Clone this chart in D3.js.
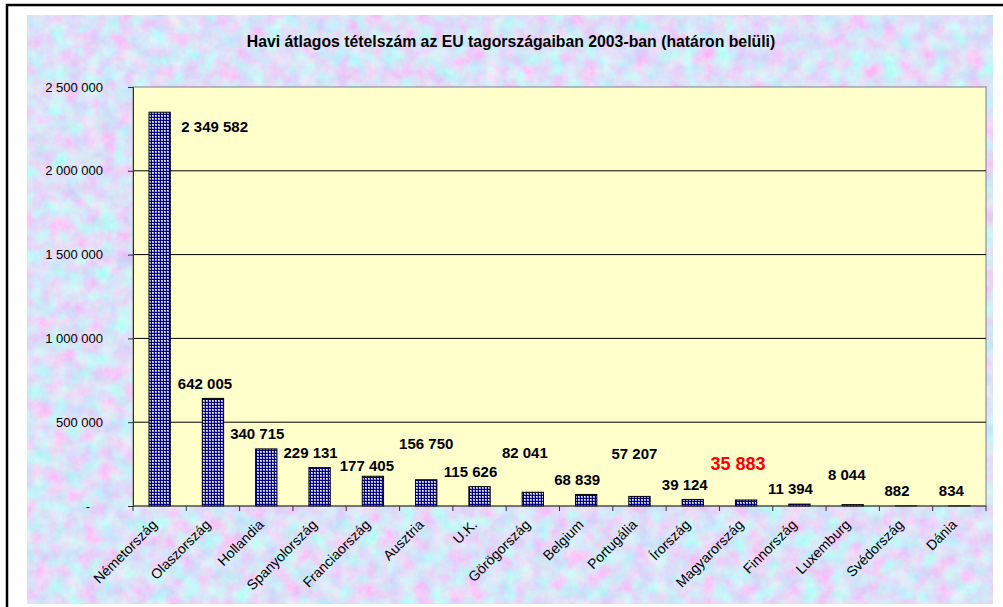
<!DOCTYPE html>
<html>
<head>
<meta charset="utf-8">
<script src="https://cdn.jsdelivr.net/npm/d3@7"></script>
<style>
  body { margin: 0; background: #fff; }
  text { font-family: Arial, "Liberation Sans", sans-serif; }
</style>
</head>
<body>
<div class="chart"></div>
<script>
// Chart data
var categories = ["Németország", "Olaszország", "Hollandia", "Spanyolország", "Franciaország",
  "Ausztria", "U.K.", "Görögország", "Belgium", "Portugália", "Írország", "Magyarország",
  "Finnország", "Luxemburg", "Svédország", "Dánia"];
var values = [2349582, 642005, 340715, 229131, 177405, 156750, 115626, 82041,
  68839, 57207, 39124, 35883, 11394, 8044, 882, 834];
var yTicks = [0, 500000, 1000000, 1500000, 2000000, 2500000];
var highlight = "Magyarország";
var title = "Havi átlagos tételszám az EU tagországaiban 2003-ban (határon belüli)";

// data labels were dragged by hand in the original, keep their offsets (from bar top)
var labelDx = [55, -8, -9, -9, -6, 0, -9, -8, -9, -5, -8, -8, -9, -6, -9, -8];
var labelDy = [15, -15, -15, -15, -11, -36, -15, -39, -15, -43, -15, -36, -15, -30, -15, -15];

var svgWidth = 1003;
var svgHeight = 607;
var margin = {top: 87, right: 17, bottom: 101, left: 133};
var width = svgWidth - margin.left - margin.right;
var height = svgHeight - margin.top - margin.bottom;

var svg = d3.select(".chart").append("svg")
  .attr("width", svgWidth)
  .attr("height", svgHeight);

var defs = svg.append("defs");

// marbled blue/pink background: red and green pulled against each other -> pink / cyan blotches
var filt = defs.append("filter").attr("id", "marble")
  .attr("x", 0).attr("y", 0).attr("width", 1).attr("height", 1);
filt.append("feTurbulence")
  .attr("type", "fractalNoise")
  .attr("baseFrequency", 0.06)
  .attr("numOctaves", 5)
  .attr("seed", 7);
filt.append("feColorMatrix")
  .attr("type", "matrix")
  .attr("values", "0.7 -0.35 0 0 0.54  -0.3 0.65 0 0 0.58  0 0 0.1 0 0.89  0 0 0 0 1");

// checkered bar fill
var pat = defs.append("pattern").attr("id", "checks")
  .attr("patternUnits", "userSpaceOnUse")
  .attr("width", 3).attr("height", 3);
pat.append("rect").attr("width", 3).attr("height", 3).attr("fill", "#000080");
pat.append("rect").attr("x", 1).attr("y", 1).attr("width", 2).attr("height", 2).attr("fill", "#a0a0e0");
pat.append("rect").attr("x", 1).attr("y", 1).attr("width", 1).attr("height", 1).attr("fill", "#ffffff");

// outer frame
svg.append("rect")
  .attr("x", 7).attr("y", 5)
  .attr("width", 1010).attr("height", 620)
  .attr("fill", "#fff")
  .attr("stroke", "#000")
  .attr("stroke-width", 2.5);

svg.append("rect")
  .attr("x", 27).attr("y", 15)
  .attr("width", 966).attr("height", 589)
  .attr("filter", "url(#marble)");

// title
svg.append("text")
  .attr("x", 511).attr("y", 47)
  .attr("text-anchor", "middle")
  .attr("font-size", "15.8px")
  .attr("font-weight", "bold")
  .text(title);

var chart = svg.append("g")
  .attr("transform", "translate(" + margin.left + "," + margin.top + ")");

var x = d3.scaleBand().domain(categories).range([0, width])
  .paddingInner(0.6).paddingOuter(0.3);
var y = d3.scaleLinear().domain([0, 2500000]).range([height, 0]);

var locale = d3.formatLocale({decimal: ",", thousands: " ", grouping: [3], currency: ["", ""]});
var fmt = locale.format(",d");

// plot area
chart.append("rect")
  .attr("width", width).attr("height", height)
  .attr("fill", "#FFFFCC")
  .attr("stroke", "#808080");

// gridlines
chart.selectAll(".grid")
  .data(yTicks.filter(function(d) { return d > 0 && d < 2500000; }))
  .enter().append("line")
  .attr("x1", 0).attr("x2", width)
  .attr("y1", function(d) { return y(d); })
  .attr("y2", function(d) { return y(d); })
  .attr("stroke", "#000");

// bars
chart.selectAll(".bar")
  .data(values)
  .enter().append("rect")
  .attr("x", function(d, i) { return x(categories[i]); })
  .attr("y", function(d) { return y(d); })
  .attr("width", x.bandwidth())
  .attr("height", function(d) { return height - y(d); })
  .attr("fill", "url(#checks)")
  .attr("stroke", "#000")
  .attr("stroke-width", 1);

// y axis
var leftAxis = d3.axisLeft(y).tickValues(yTicks).tickSize(5).tickPadding(25)
  .tickFormat(function(d) { return d === 0 ? "-" : fmt(d); });
var yAxis = chart.append("g").call(leftAxis);
yAxis.select(".domain").attr("stroke", "#333");
yAxis.selectAll(".tick line").attr("stroke", "#333");
yAxis.selectAll("text")
  .attr("font-size", "13px")
  .attr("fill", "#000")
  .attr("dx", function(d) { return d === 0 ? -13 : 0; });

// x axis (ticks between categories)
chart.append("line")
  .attr("x1", 0).attr("x2", width)
  .attr("y1", height).attr("y2", height)
  .attr("stroke", "#333");
chart.selectAll(".xtick")
  .data(d3.range(categories.length + 1))
  .enter().append("line")
  .attr("x1", function(i) { return i * x.step(); })
  .attr("x2", function(i) { return i * x.step(); })
  .attr("y1", height).attr("y2", height + 5)
  .attr("stroke", "#333");

chart.selectAll(".xlabel")
  .data(categories)
  .enter().append("text")
  .attr("transform", function(d) {
    return "translate(" + (x(d) + x.bandwidth() / 2 - 5) + "," + (height + 16) + ") rotate(-45)";
  })
  .attr("text-anchor", "end")
  .attr("dy", "0.35em")
  .attr("font-size", "14px")
  .text(function(d) { return d; });

// value labels
chart.selectAll(".vlabel")
  .data(values)
  .enter().append("text")
  .attr("x", function(d, i) { return x(categories[i]) + x.bandwidth() / 2 + labelDx[i]; })
  .attr("y", function(d, i) { return y(d) + labelDy[i]; })
  .attr("dy", "0.35em")
  .attr("text-anchor", "middle")
  .attr("font-weight", "bold")
  .attr("font-size", function(d, i) { return categories[i] === highlight ? "18px" : "15px"; })
  .attr("fill", function(d, i) { return categories[i] === highlight ? "#FF0000" : "#000"; })
  .text(function(d) { return fmt(d); });
</script>
</body>
</html>
